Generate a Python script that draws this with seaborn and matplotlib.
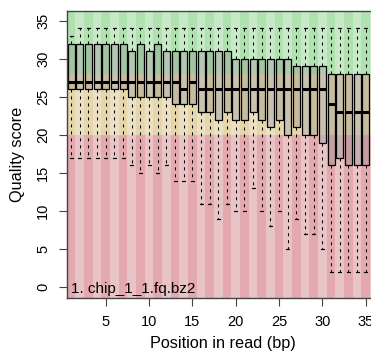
import numpy as np
import pandas as pd
import matplotlib
matplotlib.use("Agg")
import matplotlib.pyplot as plt
from matplotlib.patches import Rectangle
import seaborn as sns

# ---- data ----
positions = list(range(1, 36))
whisker_high = [33] + [34] * 34
box_high = [32] * 7 + [31, 32, 31, 32, 31] + [31] * 7 + [30] * 7 + [29] * 4 + [28] * 5
median = [27] * 13 + [26, 27] + [26] * 15 + [24] + [23] * 4
box_low = ([26] * 7 + [25] * 5 + [24] * 3
           + [23, 23, 22, 23, 22, 22, 23, 22, 21, 22, 20, 21, 20, 20, 19]
           + [16, 17, 16, 16, 16])
whisker_low = ([17] * 7
               + [16, 15, 16, 15, 16, 14, 14, 14, 11, 11, 9, 11, 10, 10, 13, 10, 8, 10, 5, 9, 7, 7, 5]
               + [2] * 5)
sample_label = "1. chip_1_1.fq.bz2"
x_ticks = [5, 10, 15, 20, 25, 30, 35]
y_ticks = [0, 5, 10, 15, 20, 25, 30, 35]

rows = []
for p, wl, bl, md, bh, wh in zip(positions, whisker_low, box_low, median, box_high, whisker_high):
    for v in (wl, bl, md, bh, wh):
        rows.append({"pos": p, "q": v})
df = pd.DataFrame(rows)

sns.set_style("white")
plt.rcParams["font.family"] = ["Liberation Sans", "DejaVu Sans"]
plt.rcParams["text.color"] = "black"
plt.rcParams["axes.labelcolor"] = "black"
plt.rcParams["xtick.color"] = "black"
plt.rcParams["ytick.color"] = "black"

fig = plt.figure(figsize=(3.71, 3.53), dpi=100)
W, H = 371.0, 353.0
left, right, top, bottom = 66.7, 378.8, 11.0, 298.3
ax = fig.add_axes([left / W, 1 - bottom / H, (right - left) / W, (bottom - top) / H])

ylo, yhi = -1.44, 36.27
xlo, xhi = 0.5, 36.5

# background quality bands with alternating stripes
bands = [
    (ylo, 20, ("#E3A9AE", "#E8C4C7")),
    (20, 28, ("#E6D6AB", "#ECE0C4")),
    (28, yhi, ("#AFE2AF", "#C7E9C7")),
]
for p in range(1, 37):
    for y0, y1, cols in bands:
        c = cols[0] if p % 2 == 1 else cols[1]
        ax.add_patch(Rectangle((p - 0.5, y0), 1, y1 - y0, facecolor=c,
                               edgecolor="none", zorder=0))
n_bg = len(ax.patches)

box_kws = dict(
    data=df, x="pos", y="q", native_scale=True, whis=(0, 100), width=0.8,
    color="#8c8c8c", linecolor="black", linewidth=0.9, fliersize=0, ax=ax,
    medianprops=dict(linewidth=2.2, color="black"),
    whiskerprops=dict(linestyle=(0, (2.9, 3.8)), linewidth=0.75, color="black"),
    capprops=dict(linewidth=0.9, color="black"),
)
try:
    sns.boxplot(capwidths=0.34, **box_kws)
except Exception:
    sns.boxplot(**box_kws)

for patch in ax.patches[n_bg:]:
    patch.set_facecolor((0.55, 0.55, 0.55, 0.35))
    patch.set_edgecolor("black")

ax.set_xlim(xlo, xhi)
ax.set_ylim(ylo, yhi)
ax.set_xticks(x_ticks)
ax.set_xticklabels([str(t) for t in x_ticks])
ax.set_yticks(y_ticks)
ax.set_yticklabels([str(t) for t in y_ticks])

for s in ax.spines.values():
    s.set_color("#444444")
    s.set_linewidth(1.0)
    s.set_visible(True)

ax.tick_params(axis="both", which="major", length=6, width=0.8, color="#444444",
               labelcolor="black", labelsize=10.5, direction="out", bottom=True, left=True)
ax.tick_params(axis="x", pad=6)
ax.tick_params(axis="y", pad=6, labelrotation=90)
for lab in ax.get_yticklabels():
    lab.set_va("center")

ax.set_xlabel("Position in read (bp)", fontsize=11.7, color="black")
ax.set_ylabel("Quality score", fontsize=11.7, color="black")
ax.xaxis.set_label_coords(0.5, -0.13)
ax.xaxis.label.set_va("top")
ax.yaxis.set_label_coords(-0.134, 0.5)

ax.text(0.0138, 0.0174, sample_label, transform=ax.transAxes, fontsize=11,
        va="baseline", ha="left", color="black", zorder=5)

fig.savefig("out.png", dpi=100)
